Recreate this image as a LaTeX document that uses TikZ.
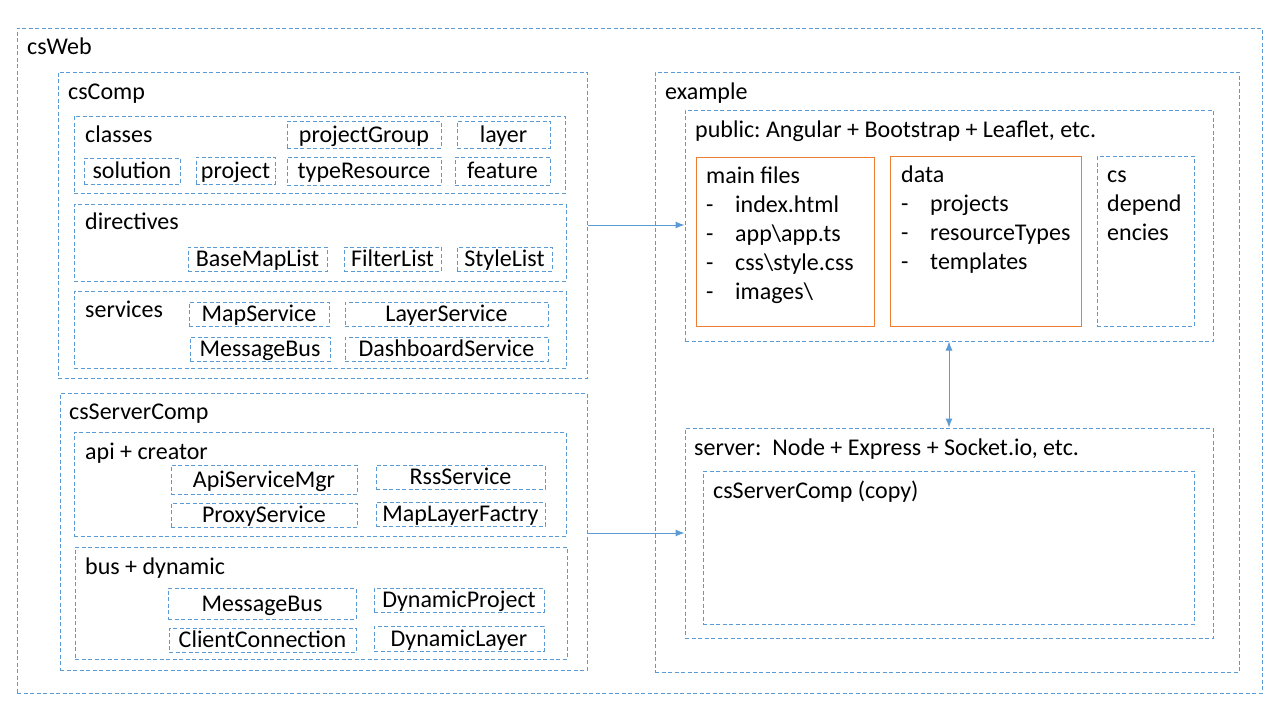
\documentclass[tikz,border=0pt]{standalone}
\usepackage{fontspec}
\setmainfont{Carlito}
\usetikzlibrary{arrows.meta}
\definecolor{bl}{HTML}{5B9BD5}
\definecolor{og}{HTML}{ED7D31}
\tikzset{
  bluebox/.style={draw=bl, line width=1pt, dash pattern=on 4pt off 2.5pt, rectangle, inner sep=0pt, text height=18pt, text depth=3pt},
  orangebox/.style={draw=og, line width=1pt, rectangle, inner sep=0pt},
  lbl/.style={anchor=base west, inner sep=0pt},
  arr/.style={draw=bl, line width=1pt, -{Latex[length=9pt,width=7pt]}},
  darr/.style={draw=bl, line width=1pt, {Latex[length=9pt,width=7pt]}-{Latex[length=9pt,width=7pt]}}
}
\newcommand{\mybox}[7][bluebox]{\node[#1, minimum width={#5-#3}, minimum height={#6-#4}] (#2) at ({(#3+#5)/2},{(#4+#6)/2}) {#7};}
\newcommand{\itm}[1]{\makebox[29pt][l]{-}#1}
\frenchspacing
\begin{document}
\begin{tikzpicture}[x=1pt,y=-1pt]
\fontsize{24}{29}\selectfont
\fill[white] (0,0) rectangle (1280,720);
\useasboundingbox (0,0) rectangle (1280,720);
% csWeb
\mybox{csWeb}{17}{28}{1262}{693}{}
\node[lbl] (csWebL) at (27,54) {csWeb};
% csComp
\mybox{csComp}{58}{72}{587}{378}{}
\node[lbl] (csCompL) at (68,99) {csComp};
\mybox{classes}{74}{116}{565}{193}{}
\node[lbl] (classesL) at (85,142) {classes};
\mybox{projectGroup}{287}{121}{441}{148}{projectGroup}
\mybox{layer}{457}{121}{550}{148}{layer}
\mybox{solution}{84}{158}{180}{184}{solution}
\mybox{project}{196}{157}{275}{184}{project}
\mybox{typeResource}{287}{157}{441}{185}{typeResource}
\mybox{feature}{455}{157}{550}{185}{feature}
\mybox{directives}{74}{204}{566}{281}{}
\node[lbl] (directivesL) at (85,229) {directives};
\mybox{BaseMapList}{188}{247}{327}{271}{BaseMapList}
\mybox{FilterList}{344}{247}{441}{271}{FilterList}
\mybox{StyleList}{457}{247}{552}{271}{StyleList}
\mybox{services}{74}{291}{566}{368}{}
\node[lbl] (servicesL) at (85,317) {services};
\mybox{MapService}{189}{302}{329}{326}{MapService}
\mybox{LayerService}{345}{302}{548}{326}{LayerService}
\mybox{MessageBusA}{190}{337}{330}{361}{MessageBus}
\mybox{DashboardService}{345}{337}{548}{361}{DashboardService}
% csServerComp
\mybox{csSC}{60}{393}{587}{670}{}
\node[lbl] (csSCL) at (69,419) {csServerComp};
\mybox{api}{74}{432}{566}{536}{}
\node[lbl] (apiL) at (85,459) {api + creator};
\mybox{ApiServiceMgr}{171}{465}{357}{494}{ApiServiceMgr}
\mybox{RssService}{376}{465}{545}{489}{RssService}
\mybox{ProxyService}{171}{503}{357}{527}{ProxyService}
\mybox{MapLayerFactry}{376}{502}{545}{526}{MapLayerFactry}
\mybox{bus}{75}{547}{567}{659}{}
\node[lbl] (busL) at (85,574) {bus + dynamic};
\mybox{MessageBusB}{168}{588}{356}{619}{MessageBus}
\mybox{DynamicProject}{374}{588}{544}{612}{DynamicProject}
\mybox{ClientConnection}{169}{628}{356}{652}{ClientConnection}
\mybox{DynamicLayer}{374}{626}{544}{651}{DynamicLayer}
% example
\mybox{example}{655}{72}{1239}{672}{}
\node[lbl] (exampleL) at (665,99) {example};
\mybox{public}{685}{110}{1213}{341}{}
\node[lbl] (publicL) at (695,137) {public: Angular + Bootstrap + Leaflet, etc.};
\mybox[orangebox]{mainfiles}{696}{157}{874}{326}{}
\node[lbl] (mainfilesL) at (706,183) {\begin{tabular}[t]{@{}l@{}}main files\\\itm{index.html}\\\itm{app\textbackslash app.ts}\\\itm{css\textbackslash style.css}\\\itm{images\textbackslash}\end{tabular}};
\mybox[orangebox]{data}{890}{156}{1081}{326}{}
\node[lbl] (dataL) at (901,182) {\begin{tabular}[t]{@{}l@{}}data\\\itm{projects}\\\itm{resourceTypes}\\\itm{templates}\end{tabular}};
\mybox{csdep}{1097}{156}{1194}{326}{}
\node[lbl] (csdepL) at (1107,182) {\begin{tabular}[t]{@{}l@{}}cs\\depend\\encies\end{tabular}};
\mybox{server}{685}{428}{1213}{638}{}
\node[lbl] (serverL) at (694,455) {server:\ \ Node + Express + Socket.io, etc.};
\mybox{copy}{703}{471}{1194}{624}{}
\node[lbl] (copyL) at (713,498) {csServerComp (copy)};
% connectors
\draw[arr] (csComp.east) -- (csComp.east -| public.west);
\draw[arr] (csSC.east |- server.west) -- (server.west);
\draw[darr] (public.south) -- (server.north);
\end{tikzpicture}
\end{document}
